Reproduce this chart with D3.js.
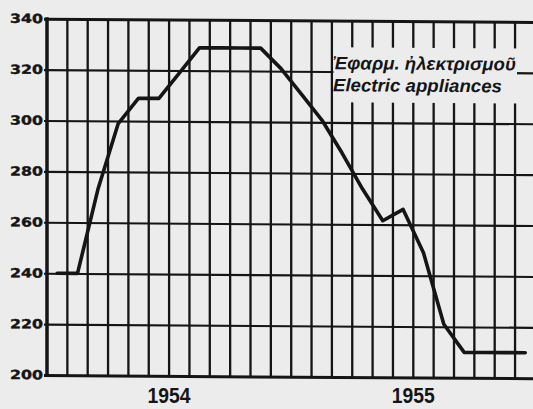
<!DOCTYPE html>
<html><head><meta charset="utf-8">
<script src="https://cdn.jsdelivr.net/npm/d3@7"></script>
<style>
html,body{margin:0;padding:0;background:#ececec;overflow:hidden}
svg{display:block}
</style>
</head><body>
<svg id="chart" width="533" height="409"></svg>
<script>
// Monthly index, Jan 1954 .. Dec 1955
const months = ["1954-01","1954-02","1954-03","1954-04","1954-05","1954-06",
                "1954-07","1954-08","1954-09","1954-10","1954-11","1954-12",
                "1955-01","1955-02","1955-03","1955-04","1955-05","1955-06",
                "1955-07","1955-08","1955-09","1955-10","1955-11","1955-12"];
const values = [240, 240, 273, 299, 309, 309, 319, 329, 329, 329, 329, 321,
                311, 301, 288, 274, 261.5, 266, 249, 221, 210, 210, 210, 210];
const yTicks = [200, 220, 240, 260, 280, 300, 320, 340];
const yearLabels = ["1954", "1955"];
const seriesLabelGr = "Ἐφαρμ. ἠλεκτρισμοῦ";
const seriesLabelEn = "Electric appliances";

const ink = "#151515", bg = "#ececec";
const svg = d3.select("#chart");
svg.append("rect").attr("width",533).attr("height",409).attr("fill",bg);

const g = svg.append("g").attr("transform","skewY(0.38)");

const x = d3.scaleLinear().domain([0, months.length]).range([47, 535.4]);
const y = d3.scaleLinear().domain([200, 340]).range([374.7, 18.4]);

// vertical month grid
g.append("g").selectAll("line").data(d3.range(1, months.length + 1)).join("line")
  .attr("x1", d => x(d)).attr("x2", d => x(d))
  .attr("y1", y(340)).attr("y2", y(200))
  .attr("stroke", ink).attr("stroke-width", 2.3);

// horizontal grid + y labels via axis
const yAxis = d3.axisLeft(y).tickValues(yTicks).tickSizeInner(-(540 - 44)).tickSizeOuter(0).tickPadding(1);
const ya = g.append("g").attr("transform", "translate(44,0)").call(yAxis);
ya.select(".domain").remove();
ya.selectAll(".tick line").attr("stroke", ink)
  .attr("stroke-width", d => (d === 200 || d === 340) ? 3 : 2.1);
ya.selectAll(".tick text")
  .attr("fill", ink)
  .attr("stroke", ink).attr("stroke-width", 0.4)
  .attr("font-family", "DejaVu Sans")
  .attr("font-weight", "bold")
  .attr("font-size", 12.5)
  .attr("dy", "0.3em")
  .attr("textLength", 33)
  .attr("lengthAdjust", "spacingAndGlyphs");

// left axis
g.append("line").attr("x1", x(0)).attr("x2", x(0))
  .attr("y1", y(340) - 1.5).attr("y2", y(200) + 1.5)
  .attr("stroke", ink).attr("stroke-width", 3.5);

// label box (breaks the grid)
g.append("rect").attr("x", 333.5).attr("y", 45).attr("width", 517 - 333.5).attr("height", 55)
  .attr("fill", bg);

g.append("text").attr("x", 333).attr("y", 67)
  .attr("font-family", "Liberation Sans, DejaVu Sans").attr("font-style", "italic")
  .attr("font-weight", "bold").attr("font-size", 18).attr("fill", ink)
  .attr("textLength", 183).attr("lengthAdjust", "spacingAndGlyphs")
  .text(seriesLabelGr);
g.append("text").attr("x", 333).attr("y", 89)
  .attr("font-family", "Liberation Sans, DejaVu Sans").attr("font-style", "italic")
  .attr("font-weight", "bold").attr("font-size", 18).attr("fill", ink)
  .attr("textLength", 169).attr("lengthAdjust", "spacingAndGlyphs")
  .text(seriesLabelEn);

// data line
const line = d3.line().x((d, i) => x(i + 0.5)).y(d => y(d));
g.append("path").datum(values).attr("d", line)
  .attr("fill", "none").attr("stroke", ink).attr("stroke-width", 3.6)
  .attr("stroke-linejoin", "round").attr("stroke-linecap", "round");

// year labels (outside the skewed group so they stay inside the frame)
svg.append("g").selectAll("text").data(yearLabels).join("text")
  .attr("x", (d, i) => x(6 + 12 * i)).attr("y", 403)
  .attr("text-anchor", "middle")
  .attr("font-family", "Liberation Sans").attr("font-weight", "bold")
  .attr("font-size", 21.5).attr("fill", ink)
  .attr("textLength", 43).attr("lengthAdjust", "spacingAndGlyphs")
  .text(d => d);
</script>
</body></html>
